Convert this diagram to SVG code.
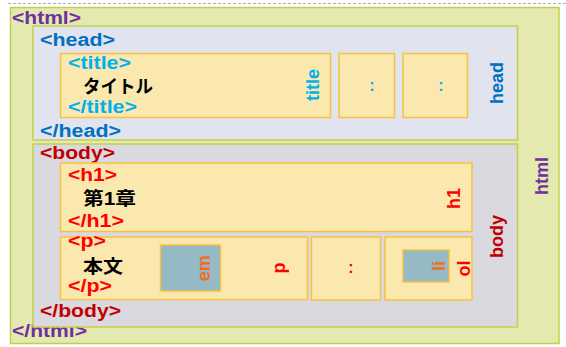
<svg xmlns="http://www.w3.org/2000/svg" width="566" height="347" viewBox="0 0 566 347">
<style>
text{font-family:"Liberation Sans","Noto Sans CJK JP",sans-serif;font-weight:bold}
.tag{font-size:18px}
.jp{font-size:18px;fill:#000}
.lbl{font-size:18px;text-anchor:middle}
.col{font-size:16px;text-anchor:middle}
.html{fill:#e4e9b0;stroke:#c3cf4a;stroke-width:1.5}
.head{fill:#e1e4ee;stroke:#c3cf4a;stroke-width:1.5}
.body{fill:#dad9df;stroke:#c3cf4a;stroke-width:1.5}
.el{fill:#fbe8ae;stroke:#f5c242;stroke-width:1.5}
.in{fill:#95b9c5;stroke:#f5c242;stroke-width:1.5}
.purple{fill:#7030a0}.blue{fill:#0070c0}.lblue{fill:#00b0f0}.dred{fill:#c00000}.red{fill:#ff0000}.orange{fill:#f26c22}
</style>
<line x1="8" y1="3.5" x2="566" y2="3.5" stroke="#a7afbd" stroke-width="1" stroke-dasharray="3,2"/>
<g id="html">
<rect class="html" x="10.5" y="7.5" width="548.5" height="336"/>
<text class="tag purple" x="12" y="23.5" textLength="69" lengthAdjust="spacingAndGlyphs">&lt;html&gt;</text>
<text class="tag purple" x="12" y="337" textLength="75" lengthAdjust="spacingAndGlyphs">&lt;/html&gt;</text>
<text class="lbl purple" transform="translate(548,176) rotate(-90)">html</text>
</g>
<g id="head">
<rect class="head" x="33" y="26" width="484.5" height="114"/>
<text class="tag blue" x="40" y="45.5" textLength="75" lengthAdjust="spacingAndGlyphs">&lt;head&gt;</text>
<text class="tag blue" x="40" y="137" textLength="81" lengthAdjust="spacingAndGlyphs">&lt;/head&gt;</text>
<text class="lbl blue" transform="translate(503,83) rotate(-90)">head</text>
</g>
<g id="title">
<rect class="el" x="60.5" y="53.5" width="270" height="64"/>
<text class="tag lblue" x="68" y="69" textLength="63" lengthAdjust="spacingAndGlyphs">&lt;title&gt;</text>
<text class="jp" x="83" y="92.5" textLength="70" lengthAdjust="spacingAndGlyphs">タイトル</text>
<text class="tag lblue" x="68" y="113" textLength="69" lengthAdjust="spacingAndGlyphs">&lt;/title&gt;</text>
<text class="lbl lblue" transform="translate(319,85) rotate(-90)">title</text>
</g>
<g id="head-more1">
<rect class="el" x="339" y="53.5" width="55.5" height="64"/>
<text class="col lblue" x="372" y="91">:</text>
</g>
<g id="head-more2">
<rect class="el" x="403" y="53.5" width="64.5" height="64"/>
<text class="col lblue" x="441" y="91">:</text>
</g>
<g id="body">
<rect class="body" x="33" y="144" width="484.5" height="183"/>
<text class="tag dred" x="40" y="158.5" textLength="75" lengthAdjust="spacingAndGlyphs">&lt;body&gt;</text>
<text class="tag dred" x="40" y="316.7" textLength="81" lengthAdjust="spacingAndGlyphs">&lt;/body&gt;</text>
<text class="lbl dred" transform="translate(503,236.5) rotate(-90)">body</text>
</g>
<g id="h1">
<rect class="el" x="60.5" y="163" width="411.5" height="68.5"/>
<text class="tag red" x="68" y="181" textLength="49" lengthAdjust="spacingAndGlyphs">&lt;h1&gt;</text>
<text class="jp" x="83" y="205" textLength="53" lengthAdjust="spacingAndGlyphs">第1章</text>
<text class="tag red" x="68" y="226.7" textLength="56" lengthAdjust="spacingAndGlyphs">&lt;/h1&gt;</text>
<text class="lbl red" transform="translate(460,198.5) rotate(-90)">h1</text>
</g>
<g id="p">
<rect class="el" x="60.5" y="237" width="247" height="62.5"/>
<text class="tag red" x="68" y="247" textLength="38" lengthAdjust="spacingAndGlyphs">&lt;p&gt;</text>
<text class="jp" x="83" y="273" textLength="40" lengthAdjust="spacingAndGlyphs">本文</text>
<text class="tag red" x="68" y="291.7" textLength="44" lengthAdjust="spacingAndGlyphs">&lt;/p&gt;</text>
<text class="lbl red" transform="translate(284.5,268) rotate(-90)">p</text>
</g>
<g id="em">
<rect class="in" x="160.5" y="245" width="60" height="46"/>
<text class="lbl orange" transform="translate(209.5,268.3) rotate(-90)">em</text>
</g>
<g id="body-more">
<rect class="el" x="311.5" y="237" width="69" height="63"/>
<text class="col red" x="351" y="273">:</text>
</g>
<g id="ol">
<rect class="el" x="385" y="237" width="87" height="63"/>
<text class="lbl red" transform="translate(470,268.5) rotate(-90)">ol</text>
</g>
<g id="li">
<rect class="in" x="403" y="250" width="46" height="32"/>
<text class="lbl orange" transform="translate(445,266) rotate(-90)">li</text>
</g>
</svg>
